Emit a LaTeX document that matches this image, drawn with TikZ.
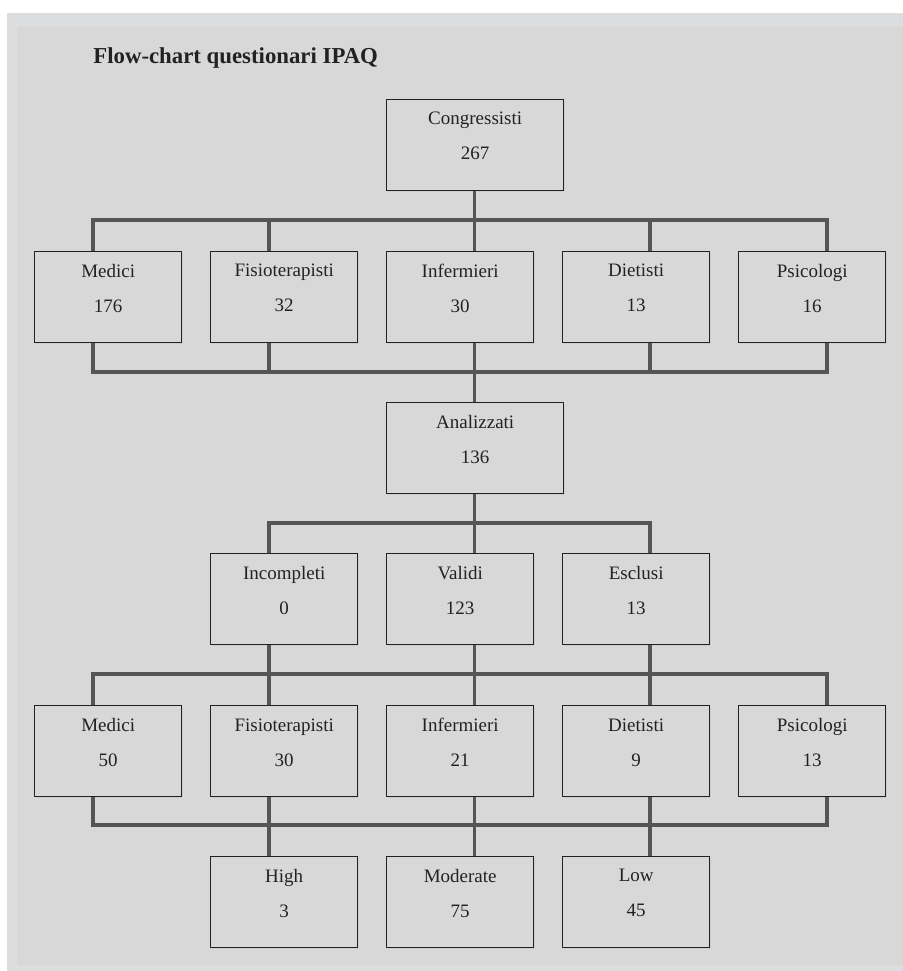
\documentclass[tikz,border=0pt]{standalone}
\usepackage{fontspec}
\setmainfont{Liberation Serif}
\usetikzlibrary{shadows}

\definecolor{bgout}{HTML}{DCDDDF}
\definecolor{bgin}{HTML}{D8D8D8}
\definecolor{wirecol}{HTML}{555555}
\definecolor{inkcol}{HTML}{222222}

\tikzset{
    cell/.style={rectangle, draw=inkcol, line width=0.7pt, fill=bgin, text=inkcol,
        minimum width=73.5pt, minimum height=45.5pt, inner sep=0pt, align=center,
        anchor=north west, font=\fontsize{9.5}{17.5}\selectfont,
        drop shadow={shadow xshift=0.8pt, shadow yshift=-0.8pt, opacity=0.12}},
    widecell/.style={cell, minimum width=88.5pt},
    wire/.style={draw=wirecol, line width=1.6pt},
}
\newcommand{\celltext}[2]{#1\\#2\rule[-9pt]{0pt}{0pt}}

\begin{document}
\begin{tikzpicture}[x=0.5pt, y=-0.5pt]
    \useasboundingbox (0,0) rectangle (903,971);
    \fill[white] (0,0) rectangle (903,971);
    \fill[bgout] (7,13) rectangle (903,971);
    \fill[bgin] (17,27) rectangle (903,965);

    \node[anchor=base west, inner sep=0pt, text=inkcol, font=\fontsize{11.4}{13}\selectfont\bfseries] (title) at (93,63) {Flow-chart questionari IPAQ};

    \coordinate (x1) at (93,0);
    \coordinate (x2) at (269,0);
    \coordinate (x3) at (474.5,0);
    \coordinate (x4) at (650,0);
    \coordinate (x5) at (827,0);
    \coordinate (ya) at (0,220);
    \coordinate (yb) at (0,372);
    \coordinate (yc) at (0,523);
    \coordinate (yd) at (0,674);
    \coordinate (ye) at (0,825);

    \node[widecell] (cong) at (386,99) {\celltext{Congressisti}{267}};

    \node[cell] (medA) at (34,251) {\celltext{Medici}{176}};
    \node[cell] (fisA) at (210,251) {\celltext{Fisioterapisti}{32}};
    \node[cell] (infA) at (386,251) {\celltext{Infermieri}{30}};
    \node[cell] (dieA) at (562,251) {\celltext{Dietisti}{13}};
    \node[cell] (psiA) at (738,251) {\celltext{Psicologi}{16}};

    \node[widecell] (anal) at (386,402) {\celltext{Analizzati}{136}};

    \node[cell] (inco) at (210,553) {\celltext{Incompleti}{0}};
    \node[cell] (vali) at (386,553) {\celltext{Validi}{123}};
    \node[cell] (escl) at (562,553) {\celltext{Esclusi}{13}};

    \node[cell] (medB) at (34,705) {\celltext{Medici}{50}};
    \node[cell] (fisB) at (210,705) {\celltext{Fisioterapisti}{30}};
    \node[cell] (infB) at (386,705) {\celltext{Infermieri}{21}};
    \node[cell] (dieB) at (562,705) {\celltext{Dietisti}{9}};
    \node[cell] (psiB) at (738,705) {\celltext{Psicologi}{13}};

    \node[cell] (high) at (210,856) {\celltext{High}{3}};
    \node[cell] (mode) at (386,856) {\celltext{Moderate}{75}};
    \node[cell] (loww) at (562,856) {\celltext{Low}{45}};

    \draw[wire] (cong.south -| x3) -- (x3 |- ya);
    \draw[wire] (medA.north -| x1) -- (x1 |- ya) -- (x5 |- ya) -- (psiA.north -| x5);
    \foreach \b/\x in {fisA/x2, infA/x3, dieA/x4}
        \draw[wire] (\x |- ya) -- (\b.north -| \x);

    \draw[wire] (medA.south -| x1) -- (x1 |- yb) -- (x5 |- yb) -- (psiA.south -| x5);
    \foreach \b/\x in {fisA/x2, infA/x3, dieA/x4}
        \draw[wire] (\b.south -| \x) -- (\x |- yb);
    \draw[wire] (x3 |- yb) -- (anal.north -| x3);

    \draw[wire] (anal.south -| x3) -- (x3 |- yc);
    \draw[wire] (inco.north -| x2) -- (x2 |- yc) -- (x4 |- yc) -- (escl.north -| x4);
    \draw[wire] (x3 |- yc) -- (vali.north -| x3);

    \draw[wire] (medB.north -| x1) -- (x1 |- yd) -- (x5 |- yd) -- (psiB.north -| x5);
    \foreach \a/\b/\x in {inco/fisB/x2, vali/infB/x3, escl/dieB/x4}
        \draw[wire] (\a.south -| \x) -- (\b.north -| \x);

    \draw[wire] (medB.south -| x1) -- (x1 |- ye) -- (x5 |- ye) -- (psiB.south -| x5);
    \foreach \a/\b/\x in {fisB/high/x2, infB/mode/x3, dieB/loww/x4}
        \draw[wire] (\a.south -| \x) -- (\b.north -| \x);
\end{tikzpicture}
\end{document}
